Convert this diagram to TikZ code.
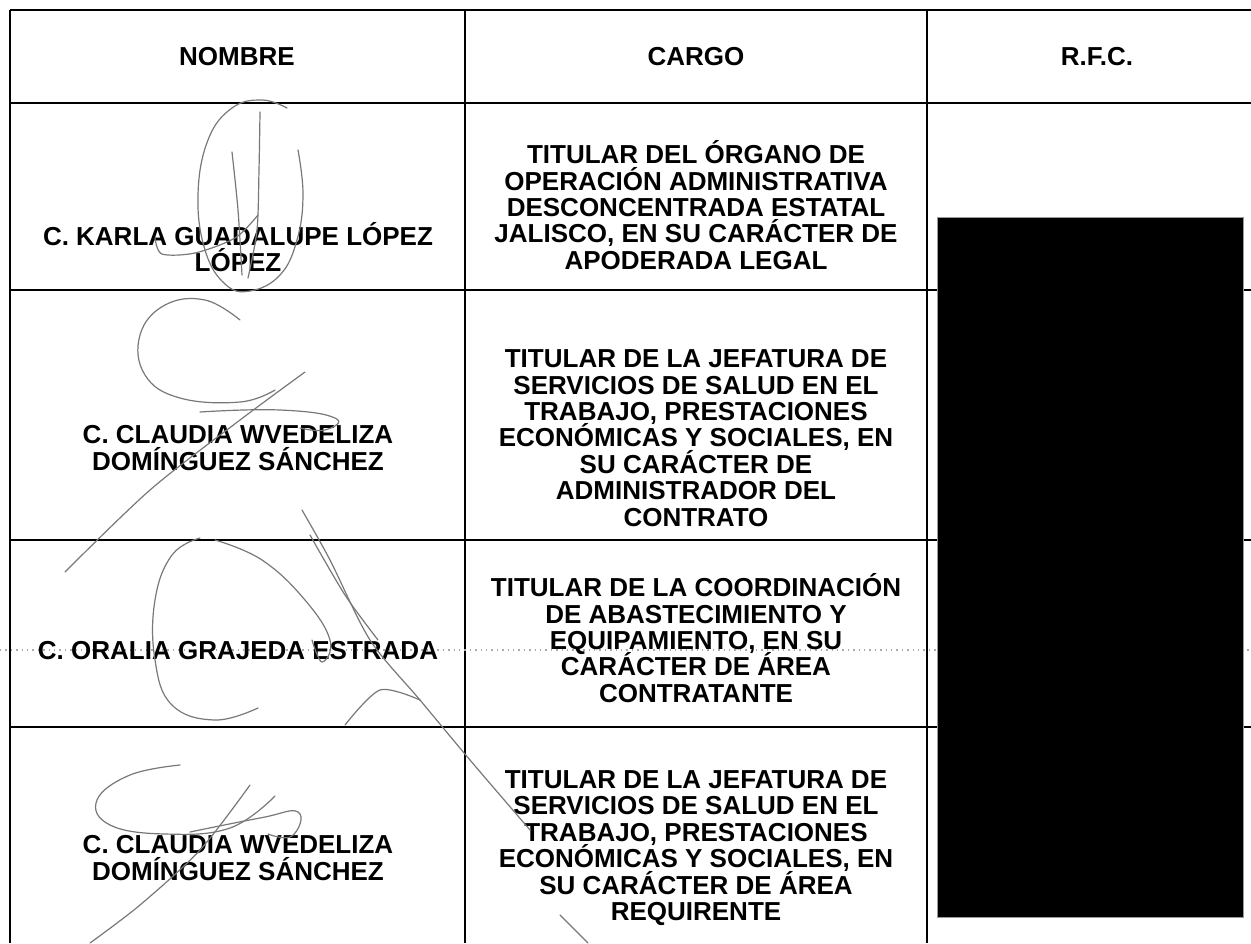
\documentclass[tikz,border=0pt]{standalone}
\usepackage{fontspec}
\setmainfont{Liberation Sans}
\usepackage{xcolor}
\usepackage{tikz}
\usetikzlibrary{positioning, calc}
\definecolor{firmagray}{RGB}{120, 120, 120}
\definecolor{dotgray}{RGB}{170, 170, 170}
\setlength{\lineskiplimit}{-20pt}

\tikzset{
  tabrule/.style={line width=0.8pt, black},
  celltext/.style={align=center, inner sep=0pt, font=\bfseries\fontsize{13}{13.2}\selectfont},
  headtext/.style={inner sep=0pt, font=\bfseries\fontsize{13}{13.2}\selectfont},
  tachado/.style={fill=black, draw=black!40, line width=0.4pt, minimum width=153pt, minimum height=350pt, inner sep=0pt},
  firma/.style={draw=firmagray, line width=0.6pt, line cap=round, line join=round},
}

\begin{document}
\begin{tikzpicture}[x=0.5pt, y=-0.5pt]
        \useasboundingbox (0,0) rectangle (1251,943);

        % table rules
        \foreach \yy in {10, 103, 290, 540, 727}
            \draw[tabrule] (10,\yy) -- (1251,\yy);
        \foreach \xx in {10, 465, 927}
            \draw[tabrule] (\xx,10) -- (\xx,943);
        \draw[dotgray, dotted, line width=0.7pt] (0,650) -- (1251,650);

        % header
        \node[headtext] (hNombre) at (237,57) {NOMBRE};
        \node[headtext] (hCargo) at (696,57) {CARGO};
        \node[headtext] (hRfc) at (1097,57) {R.F.C.};

        % names
        \node[celltext] (nombreA) at (238,247) {C. KARLA GUADALUPE LÓPEZ\\LÓPEZ};
        \node[celltext] (nombreB) at (238,448) {C. CLAUDIA WVEDELIZA\\DOMÍNGUEZ SÁNCHEZ};
        \node[celltext] (nombreC) at (238,651) {C. ORALIA GRAJEDA ESTRADA};
        \node[celltext] (nombreD) at (238,858) {C. CLAUDIA WVEDELIZA\\DOMÍNGUEZ SÁNCHEZ};

        % cargos
        \node[celltext] (cargoA) at (696,205) {TITULAR DEL ÓRGANO DE\\OPERACIÓN ADMINISTRATIVA\\DESCONCENTRADA ESTATAL\\JALISCO, EN SU CARÁCTER DE\\APODERADA LEGAL};
        \node[celltext] (cargoB) at (696,438) {TITULAR DE LA JEFATURA DE\\SERVICIOS DE SALUD EN EL\\TRABAJO, PRESTACIONES\\ECONÓMICAS Y SOCIALES, EN\\SU CARÁCTER DE\\ADMINISTRADOR DEL\\CONTRATO};
        \node[celltext] (cargoC) at (696,638) {TITULAR DE LA COORDINACIÓN\\DE ABASTECIMIENTO Y\\EQUIPAMIENTO, EN SU\\CARÁCTER DE ÁREA\\CONTRATANTE};
        \node[celltext] (cargoD) at (696,848) {TITULAR DE LA JEFATURA DE\\SERVICIOS DE SALUD EN EL\\TRABAJO, PRESTACIONES\\ECONÓMICAS Y SOCIALES, EN\\SU CARÁCTER DE ÁREA\\REQUIRENTE};

        % rfc blacked out
        \node[tachado] (rfcBox) at (1090,567) {};

        % signatures
        \draw[firma] plot[smooth, tension=0.7] coordinates {(287,108) (262,100) (232,108) (208,140) (198,195) (205,250) (225,284) (250,291) (280,275) (297,240) (303,195) (298,150)};
        \draw[firma] plot[smooth] coordinates {(260,112) (259,170) (257,230) (248,278)};
        \draw[firma] plot[smooth] coordinates {(232,152) (238,210) (242,275)};
        \draw[firma] plot[smooth] coordinates {(155,238) (162,254) (195,253) (235,238) (258,215)};

        \draw[firma] plot[smooth, tension=0.7] coordinates {(240,320) (205,300) (165,305) (140,335) (145,375) (180,398) (240,402) (275,390)};
        \draw[firma] plot[smooth] coordinates {(305,372) (240,420) (150,490) (65,572)};
        \draw[firma] plot[smooth, tension=0.8] coordinates {(200,412) (280,410) (335,418) (325,430) (300,428)};

        \draw[firma] plot[smooth, tension=0.7] coordinates {(200,538) (172,555) (155,600) (155,660) (172,705) (215,720) (258,708)};
        \draw[firma] plot[smooth, tension=0.7] coordinates {(215,540) (262,560) (305,600) (330,640) (322,662) (312,640)};
        \draw[firma] plot[smooth] coordinates {(302,510) (330,560) (370,640) (420,700) (470,760) (530,830)};
        \draw[firma] plot[smooth] coordinates {(310,535) (345,595) (378,640)};
        \draw[firma] plot[smooth] coordinates {(345,725) (380,690) (420,700)};
        \draw[firma] (560,915) -- (588,943);

        \draw[firma] plot[smooth, tension=0.7] coordinates {(180,765) (130,775) (97,800) (110,825) (165,834) (230,828) (275,796)};
        \draw[firma] plot[smooth, tension=0.8] coordinates {(190,832) (260,818) (298,812) (292,836) (268,834)};
        \draw[firma] plot[smooth] coordinates {(250,785) (200,850) (140,905) (90,943)};
    \end{tikzpicture}
\end{document}
